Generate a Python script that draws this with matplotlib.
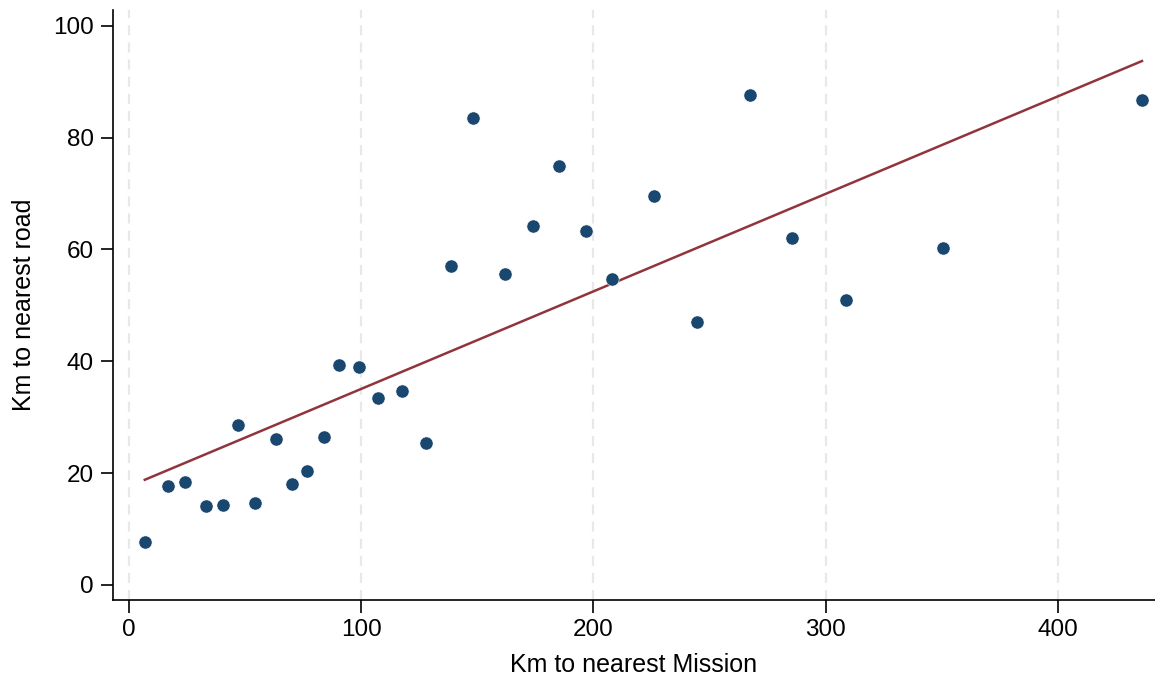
import numpy as np
import matplotlib
matplotlib.use("Agg")
import matplotlib.pyplot as plt

plt.rcParams['font.family'] = ['Liberation Sans', 'DejaVu Sans']

km_mission = [6.9, 16.8, 24.1, 33.1, 40.5, 46.9, 54.2, 63.3, 70.2, 76.6,
              83.9, 90.4, 99.0, 107.2, 117.5, 127.9, 138.6, 148.1, 161.9, 174.0,
              185.1, 196.7, 207.9, 226.0, 244.5, 267.3, 285.4, 308.7, 350.4, 436.1]
km_road = [7.7, 17.7, 18.4, 14.1, 14.3, 28.6, 14.7, 26.1, 18.1, 20.4,
           26.5, 39.3, 39.0, 33.4, 34.7, 25.4, 57.0, 83.5, 55.6, 64.2,
           74.9, 63.3, 54.7, 69.6, 47.0, 87.6, 62.0, 51.0, 60.3, 86.7]
# fitted line
fit_intercept = 17.6
fit_slope = 0.1745
x_ticks = [0, 100, 200, 300, 400]
y_ticks = [0, 20, 40, 60, 80, 100]

x = np.array(km_mission)
y = np.array(km_road)

fig = plt.figure(figsize=(11.55, 6.76), dpi=100)
ax = fig.add_axes([0.0978, 0.1124, 0.9022, 0.8726])

for t in x_ticks:
    ax.axvline(t, color='#e8e8e8', lw=1.6, ls=(0, (4.5, 3.2)), zorder=0)

ax.scatter(x, y, s=90, color='#1a476f', edgecolors='white', linewidths=0.4, zorder=3)

xl = np.array([x.min(), x.max()])
ax.plot(xl, fit_intercept + fit_slope * xl, color='#90353b', lw=1.8, zorder=2)

ax.set_xlim(-6.8, 441.7)
ax.set_ylim(-2.7, 102.8)
ax.set_xticks(x_ticks)
ax.set_yticks(y_ticks)
ax.tick_params(axis='both', labelsize=17.5, length=9, width=1.2, direction='out', pad=5)
for s in ['top', 'right']:
    ax.spines[s].set_visible(False)
for s in ['left', 'bottom']:
    ax.spines[s].set_linewidth(1.2)
ax.set_xlabel('Km to nearest Mission', fontsize=18, labelpad=8)
ax.set_ylabel('Km to nearest road', fontsize=18, labelpad=12)

fig.savefig('out.png', dpi=100)
